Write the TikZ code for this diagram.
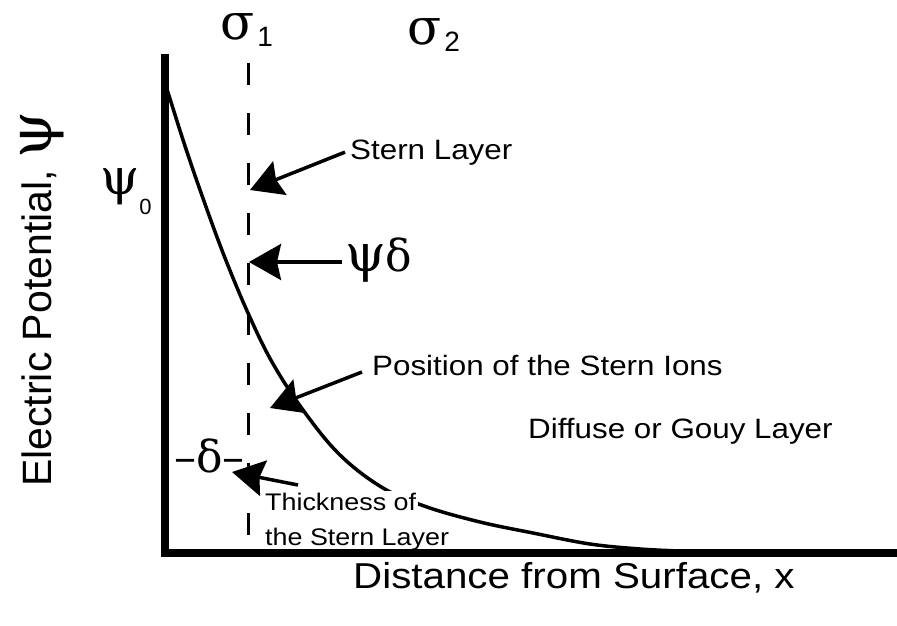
\documentclass[tikz,border=0pt]{standalone}
\usepackage{fontspec}
\setmainfont{Liberation Sans}
\newfontfamily\greekfont{DejaVu Serif}
\usetikzlibrary{arrows.meta,positioning}
\newcommand{\hstretch}[1]{\scalebox{1.12}[1]{#1}}
\newcommand{\fsz}[1]{\fontsize{#1}{#1}\selectfont}

\begin{document}
\begin{tikzpicture}[x=1pt,y=-1pt,
  axis/.style={line width=8pt},
  potential/.style={line width=3.5pt},
  sternline/.style={line width=3pt,dash pattern=on 22pt off 28pt},
  pointer/.style={line width=3.5pt,-{Stealth[length=32pt,width=36pt,inset=4pt]}},
  lbl/.style={inner sep=0pt,anchor=base west}]
  \useasboundingbox[fill=white] (0,0) rectangle (897,626);
  % axes
  \coordinate (ytop) at (165,54);
  \coordinate (origin) at (165,553);
  \coordinate (xend) at (897,553);
  \draw[axis] (ytop) -- (origin) -- (xend);
  % plane of the Stern ions
  \coordinate (dtop) at (248,63);
  \coordinate (dbot) at (248,553);
  \draw[sternline] (dtop) -- (dbot);
  % potential decay
  \draw[potential] plot[smooth,tension=0.6] coordinates {(166,86) (185,146) (205,204)
    (225,258) (248,313) (272,362) (303,410) (340,455) (383,488) (427,507) (480,522)
    (533,533) (590,544) (640,549) (680,551)};
  % charges
  \node[lbl] (sigA) at (220,40) {\greekfont\fsz{50}σ\kern3pt\raisebox{-7pt}{\normalfont\fsz{28}1}};
  \node[lbl] (sigB) at (407,45) {\greekfont\fsz{50}σ\kern3pt\raisebox{-7pt}{\normalfont\fsz{28}2}};
  % axis labels
  \node[lbl,rotate=90] (ylab) at (51,487) {\fsz{41}Electric Potential, {\greekfont\fsz{60}ψ}};
  \node[lbl] (xlab) at (353,588) {\fsz{36}\hstretch{Distance from Surface, x}};
  \node[lbl] (psz) at (100,194) {\greekfont\fsz{50}ψ\raisebox{-20pt}{\normalfont\fsz{22}0}};
  % layer labels
  \node[lbl] (stern) at (350,159) {\fsz{28}\hstretch{Stern Layer}};
  \node[lbl] (psd) at (345,271) {\greekfont\fsz{52}ψ\fsz{44}δ};
  \node[lbl] (ions) at (372,375) {\fsz{28}\hstretch{Position of the Stern Ions}};
  \node[lbl] (diffuse) at (528,438) {\fsz{28}\hstretch{Diffuse or Gouy Layer}};
  \node[lbl] (dlt) at (174,472) {\greekfont\fsz{44}–δ–};
  \node[lbl,fill=white,inner sep=2pt] (thick) at (263,510) {\fsz{24}\hstretch{Thickness of}};
  \node[lbl] (thesl) at (265,545) {\fsz{24}\hstretch{the Stern Layer}};
  % pointers
  \coordinate (sternTip) at (250,190);
  \coordinate (psiTip) at (249,262);
  \coordinate (ionsTip) at (270,408);
  \coordinate (thickTip) at (232,472);
  \draw[pointer] ([xshift=-5pt]stern.west) -- (sternTip);
  \draw[pointer] ([xshift=-3pt]psiTip -| psd.west) -- (psiTip);
  \draw[pointer] ([xshift=-10pt,yshift=3pt]ions.base west) -- (ionsTip);
  \draw[pointer] ([xshift=35pt,yshift=25pt]thick.base west) -- (thickTip);
\end{tikzpicture}
\end{document}
